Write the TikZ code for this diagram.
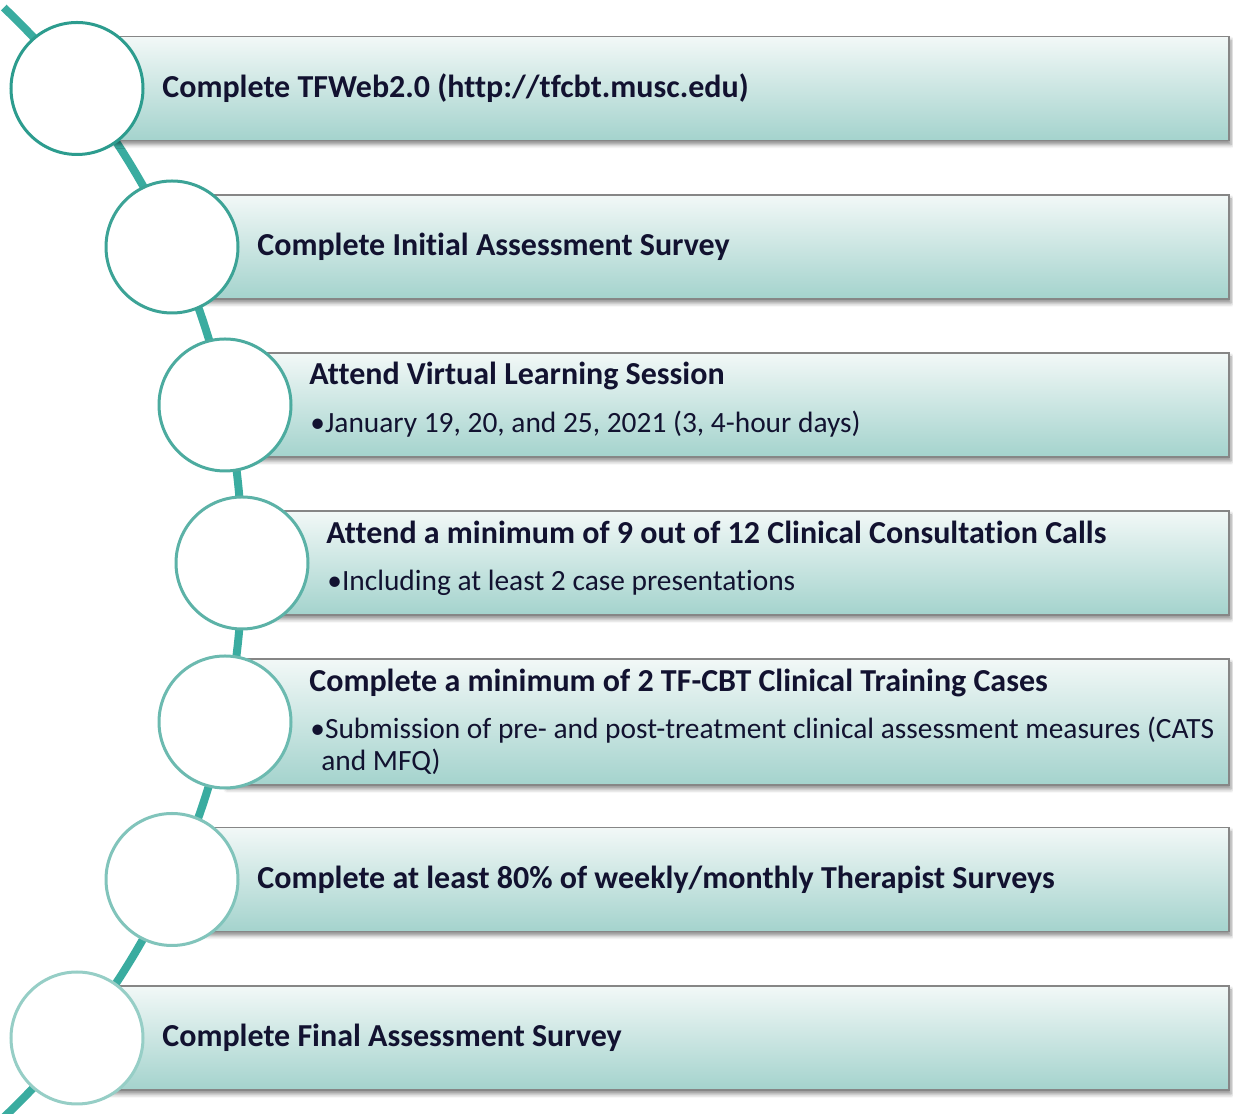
\documentclass[tikz,border=0pt]{standalone}
\usepackage{fontspec}
\setmainfont{Carlito}[Ligatures=NoCommon]
\usetikzlibrary{positioning,shadows.blur}

\definecolor{spine}{RGB}{58,172,160}
\definecolor{ringdark}{RGB}{44,156,142}
\definecolor{ringlight}{RGB}{150,206,198}
\definecolor{bartop}{RGB}{242,248,247}
\definecolor{barbot}{RGB}{164,211,205}
\definecolor{ink}{RGB}{18,18,48}

\begin{document}
\begin{tikzpicture}[
                  x=0.5pt, y=0.5pt,
                  bar/.style={rectangle, draw=gray!95, line width=0.7pt, top color=bartop, bottom color=barbot, anchor=west, minimum height=52pt, inner sep=0pt, outer sep=0pt, blur shadow={shadow xshift=1pt, shadow yshift=-2pt, shadow blur radius=2pt, shadow opacity=45}},
                  ring/.style={circle, draw=#1, line width=1.5pt, fill=white, minimum size=66pt, inner sep=0pt},
                  title/.style={anchor=base west, inner sep=0pt, text=ink, font=\bfseries\fontsize{16}{19}\selectfont},
                  item/.style={anchor=base west, inner sep=0pt, text=ink, font=\fontsize{14.7}{17}\selectfont}
            ]
            \useasboundingbox (0,0) rectangle (1233,1114);
            \clip (0,0) rectangle (1233,1114);

            % Spine
            \draw [spine, line width=4pt] (-522.8,551.5) ++(46.5:382.5pt) arc (46.5:-48:382.5pt);

            % Bars
            \node [bar, minimum width=576pt]   (bar1) at (77,1025.5) {};
            \node [bar, minimum width=528.5pt] (bar2) at (172,867) {};
            \node [bar, minimum width=502pt]   (bar3) at (225,709) {};
            \node [bar, minimum width=493.5pt] (bar4) at (242,551) {};
            \node [bar, minimum width=502pt, minimum height=63pt] (bar5) at (225,392) {};
            \node [bar, minimum width=528.5pt] (bar6) at (172,234.5) {};
            \node [bar, minimum width=576pt]   (bar7) at (77,76) {};

            % Circles
            \node [ring=ringdark] (c1) at (bar1.west) {};
            \node [ring=ringdark!85!ringlight] (c2) at (bar2.west) {};
            \node [ring=ringdark!70!ringlight] (c3) at (bar3.west) {};
            \node [ring=ringdark!55!ringlight] (c4) at (bar4.west) {};
            \node [ring=ringdark!40!ringlight] (c5) at (bar5.west) {};
            \node [ring=ringdark!20!ringlight] (c6) at (bar6.west) {};
            \node [ring=ringlight] (c7) at (bar7.west) {};

            % Labels
            \node [title] (t1) at (162,1016) {Complete TFWeb2.0 (http://tfcbt.musc.edu)};
            \node [title] (t2) at (257,858) {Complete Initial Assessment Survey};
            \node [title] (t3) at (309,729) {Attend Virtual Learning Session};
            \node [item]  (i3) at (310,681) {•January 19, 20, and 25, 2021 (3, 4-hour days)};
            \node [title] (t4) at (326,570) {Attend a minimum of 9 out of 12 Clinical Consultation Calls};
            \node [item]  (i4) at (327,523) {•Including at least 2 case presentations};
            \node [title] (t5) at (309,422) {Complete a minimum of 2 TF-CBT Clinical Training Cases};
            \node [item]  (i5) at (310,375) {•Submission of pre- and post-treatment clinical assessment measures (CATS};
            \node [item]  (i5b) at (321,343) {and MFQ)};
            \node [title] (t6) at (257,225) {Complete at least 80\% of weekly/monthly Therapist Surveys};
            \node [title] (t7) at (162,67) {Complete Final Assessment Survey};
      \end{tikzpicture}
\end{document}
